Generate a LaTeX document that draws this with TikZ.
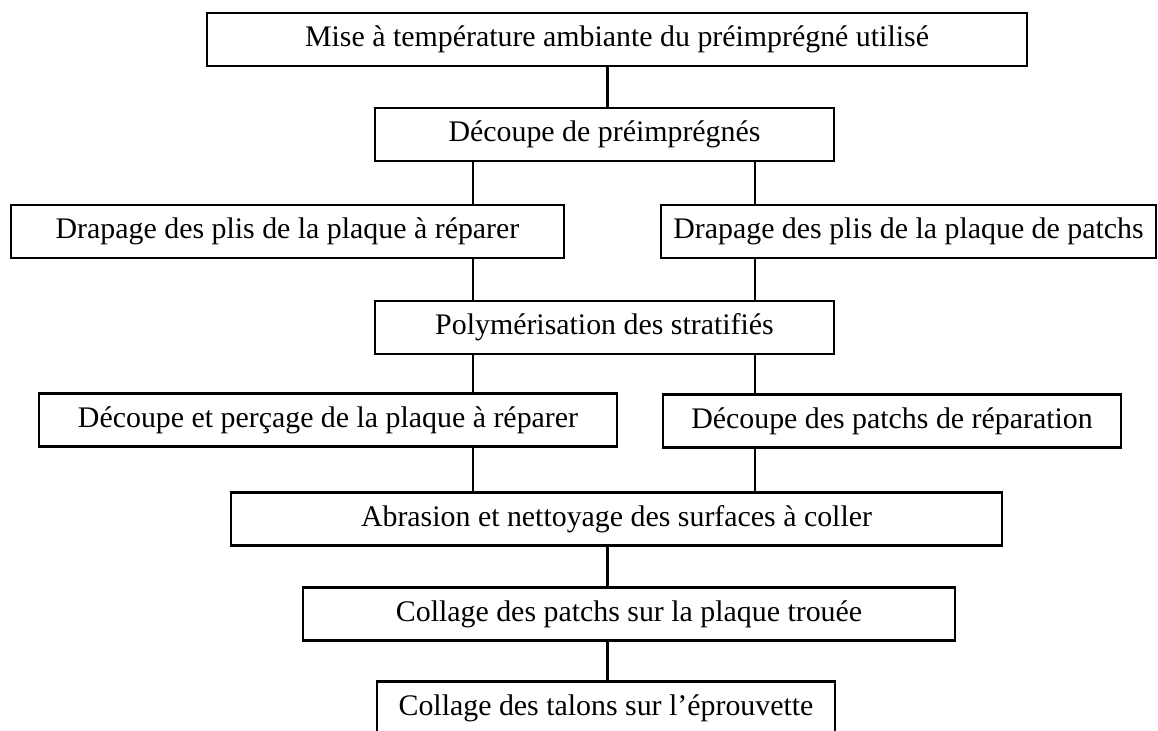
\documentclass[tikz,border=0pt]{standalone}
\usepackage{fontspec}
\setmainfont{Liberation Serif}
\usetikzlibrary{positioning}
\tikzset{
    step_box/.style={
        rectangle, draw=black, line width=1.6pt, fill=white,
        minimum height=1.06cm, inner sep=0pt,
        align=center, font=\fontsize{17}{20}\selectfont
    },
    link_line/.style={
        draw=black, line width=1.4pt
    }
}
\begin{document}
\begin{tikzpicture}

    \useasboundingbox (0,0) rectangle (23.16,-14.62);

    % columns of the connectors
    \coordinate (col_mid) at (12.15,0);
    \coordinate (col_left) at (9.46,0);
    \coordinate (col_right) at (15.10,0);

    \node[step_box, minimum width=16.40cm] (mise) at (12.34, -0.79) {Mise à température ambiante du préimprégné utilisé};
    \node[step_box, minimum width=9.18cm] (decoupe) at (12.09, -2.69) {Découpe de préimprégnés};

    \node[step_box, minimum width=11.06cm] (drap_rep) at (5.75, -4.63) {Drapage des plis de la plaque à réparer};
    \node[step_box, minimum width=9.90cm] (drap_patch) at (18.17, -4.63) {Drapage des plis de la plaque de patchs};

    \node[step_box, minimum width=9.18cm] (polym) at (12.09, -6.55) {Polymérisation des stratifiés};

    \node[step_box, minimum width=11.56cm] (percage) at (6.56, -8.40) {Découpe et perçage de la plaque à réparer};
    \node[step_box, minimum width=9.16cm] (dec_patch) at (17.84, -8.42) {Découpe des patchs de réparation};

    \node[step_box, minimum width=15.42cm] (abrasion) at (12.33, -10.38) {Abrasion et nettoyage des surfaces à coller};
    \node[step_box, minimum width=13.04cm] (coll_patch) at (12.58, -12.28) {Collage des patchs sur la plaque trouée};
    \node[step_box, minimum width=9.16cm] (coll_talon) at (12.12, -14.16) {Collage des talons sur l’éprouvette};

    \draw[link_line] (mise.south -| col_mid) -- (decoupe.north -| col_mid);
    \draw[link_line] (decoupe.south -| col_left) -- (drap_rep.north -| col_left);
    \draw[link_line] (decoupe.south -| col_right) -- (drap_patch.north -| col_right);
    \draw[link_line] (drap_rep.south -| col_left) -- (polym.north -| col_left);
    \draw[link_line] (drap_patch.south -| col_right) -- (polym.north -| col_right);
    \draw[link_line] (polym.south -| col_left) -- (percage.north -| col_left);
    \draw[link_line] (polym.south -| col_right) -- (dec_patch.north -| col_right);
    \draw[link_line] (percage.south -| col_left) -- (abrasion.north -| col_left);
    \draw[link_line] (dec_patch.south -| col_right) -- (abrasion.north -| col_right);
    \draw[link_line] (abrasion.south -| col_mid) -- (coll_patch.north -| col_mid);
    \draw[link_line] (coll_patch.south -| col_mid) -- (coll_talon.north -| col_mid);

\end{tikzpicture}
\end{document}
